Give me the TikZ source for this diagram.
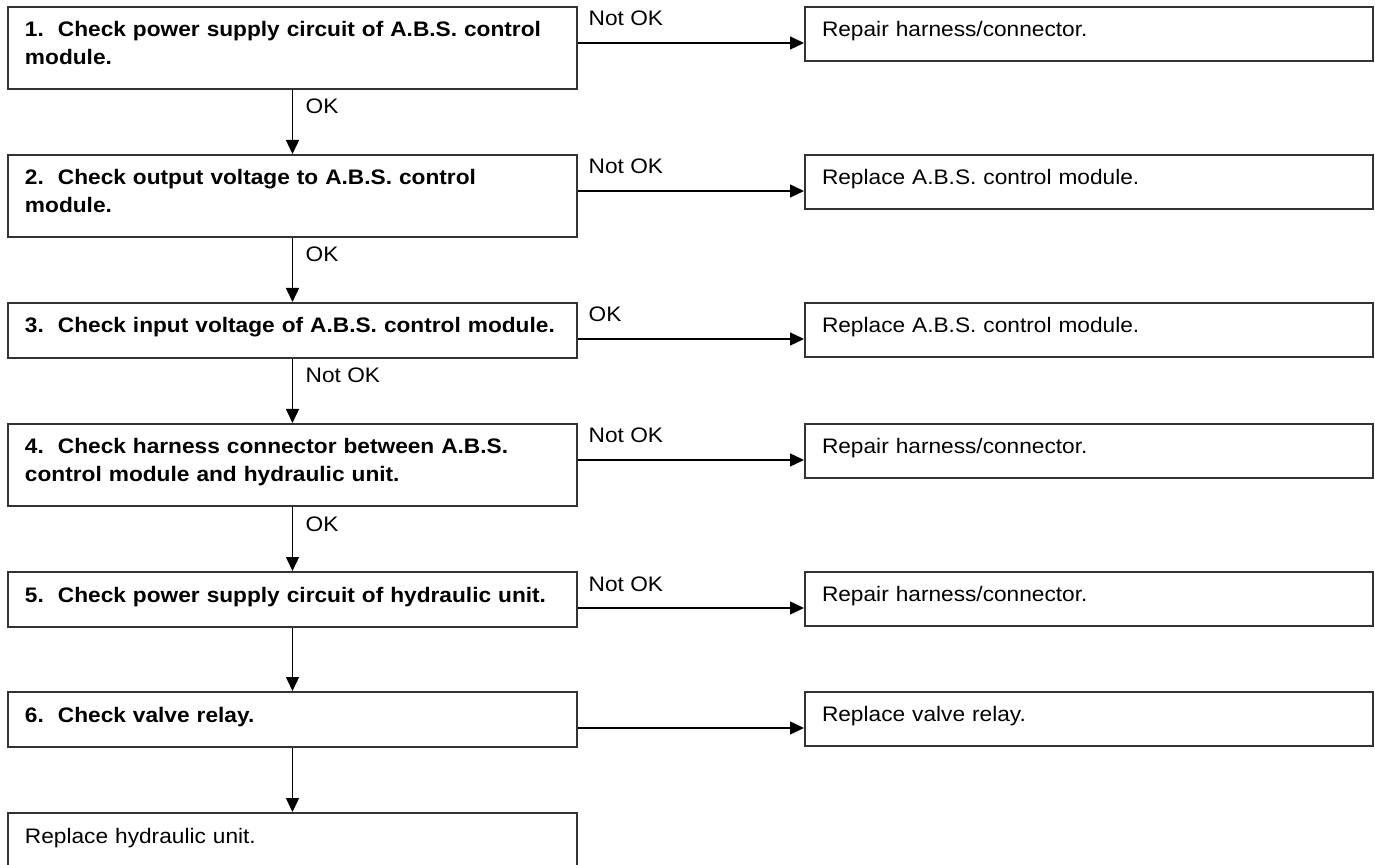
\documentclass[tikz,border=0pt]{standalone}
\usepackage{fontspec}
\setmainfont[FakeStretch=1.08]{Liberation Sans}
\usetikzlibrary{arrows.meta}
\begin{document}
\begin{tikzpicture}[x=0.5pt,y=-0.5pt,
  every node/.style={font=\fontsize{10.5pt}{14pt}\selectfont},
  box/.style={draw=black!80,line width=1pt,anchor=north west,inner xsep=8.5pt,inner ysep=0pt,
    align=left,text height=6.5pt,text depth=4pt},
  stepbox/.style={box,text width=267.5pt,minimum height=27.5pt,font=\fontsize{10.5pt}{14pt}\selectfont\bfseries},
  twoline/.style={minimum height=41pt,text depth=18pt},
  endbox/.style={box,text width=267.5pt,minimum height=27.5pt},
  fixbox/.style={box,text width=267pt,minimum height=27pt},
  flow/.style={-{Triangle[length=7pt,width=6.5pt]},line width=0.7pt},
  tag/.style={inner sep=0pt}]
  \useasboundingbox (0,0) rectangle (1375,865);
  \clip (0,0) rectangle (1375,865);
  \node[stepbox,twoline] (b1) at (7,6) {1.\ \ Check power supply circuit of A.B.S. control\\module.};
  \node[stepbox,twoline] (b2) at (7,154) {2.\ \ Check output voltage to A.B.S. control\\module.};
  \node[stepbox] (b3) at (7,302) {3.\ \ Check input voltage of A.B.S. control module.};
  \node[stepbox,twoline] (b4) at (7,423) {4.\ \ Check harness connector between A.B.S.\\control module and hydraulic unit.};
  \node[stepbox] (b5) at (7,571) {5.\ \ Check power supply circuit of hydraulic unit.};
  \node[stepbox] (b6) at (7,691) {6.\ \ Check valve relay.};
  \node[endbox] (b7) at (7,812) {Replace hydraulic unit.};
  \node[fixbox] (r1) at (804,6) {Repair harness/connector.};
  \node[fixbox] (r2) at (804,154) {Replace A.B.S. control module.};
  \node[fixbox] (r3) at (804,302) {Replace A.B.S. control module.};
  \node[fixbox] (r4) at (804,423) {Repair harness/connector.};
  \node[fixbox] (r5) at (804,571) {Repair harness/connector.};
  \node[fixbox] (r6) at (804,691) {Replace valve relay.};
  \foreach \i/\t in {1/Not OK,2/Not OK,3/OK,4/Not OK,5/Not OK}
    \draw[flow] ([yshift=-18.5pt]b\i.north east) -- ([yshift=-18.5pt]r\i.north west)
      node[tag,pos=0,anchor=base west,xshift=5pt,yshift=8.5pt] (n\i) {\t};
  \draw[flow] ([yshift=-18.5pt]b6.north east) -- ([yshift=-18.5pt]r6.north west);
  \foreach \i/\j/\t in {1/2/OK,2/3/OK,3/4/Not OK,4/5/OK}
    \draw[flow] (b\i.south) -- (b\j.north)
      node[tag,pos=0,anchor=base west,xshift=6.25pt,yshift=-12pt] (v\i) {\t};
  \draw[flow] (b5.south) -- (b6.north);
  \draw[flow] (b6.south) -- (b7.north);
\end{tikzpicture}
\end{document}
